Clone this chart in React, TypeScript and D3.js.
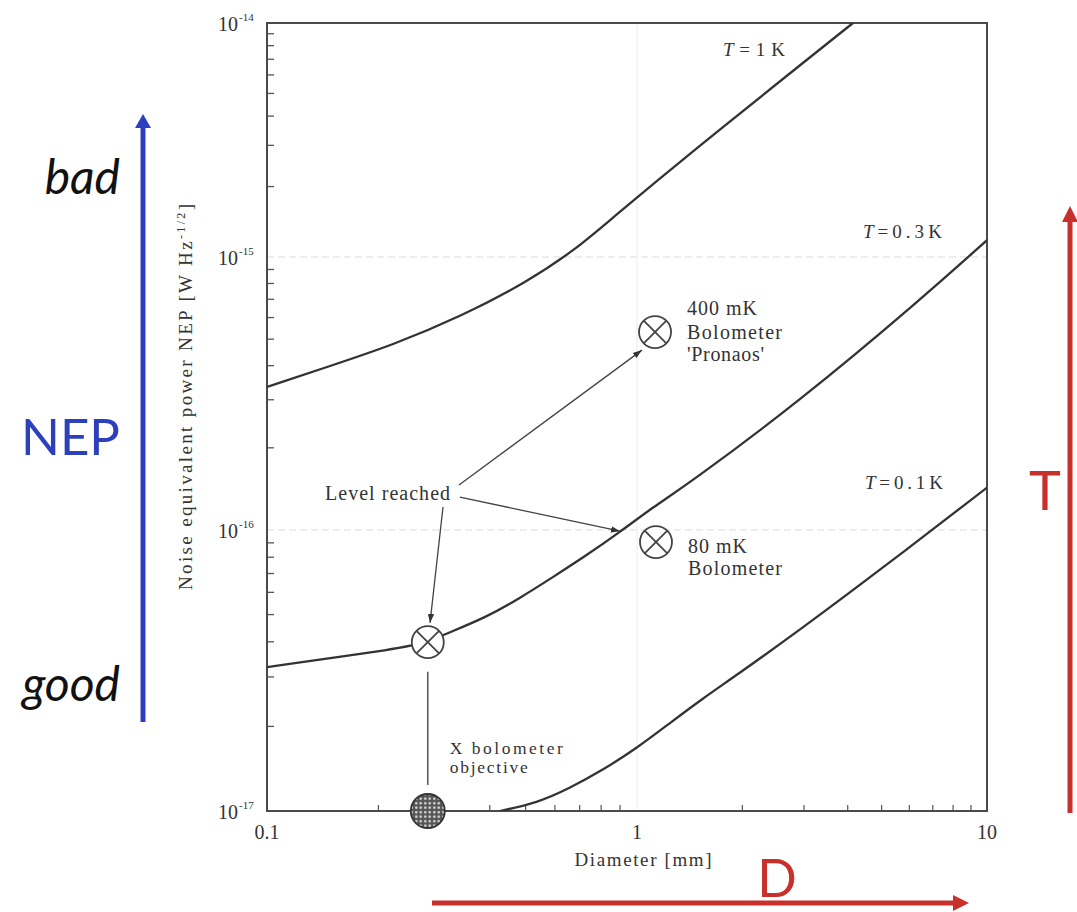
import React from "react";
import * as d3 from "d3";

// ---------- data ----------
const diameterT1 = [0.1, 0.145, 0.219, 0.332, 0.505, 0.689, 0.845, 1.445, 2.79, 4.14];
const nepT1 = [3.34e-16, 3.95e-16, 4.76e-16, 6.03e-16, 8.1e-16, 1.09e-15, 1.44e-15, 2.84e-15, 6.24e-15, 1e-14];

const diameterT03 = [0.1, 0.233, 0.272, 0.299, 0.393, 0.483, 0.593, 0.733, 0.9, 1.111, 1.39, 2.92, 6.44, 10];
const nepT03 = [3.25e-17, 3.8e-17, 3.99e-17, 4.23e-17, 4.9e-17, 5.73e-17, 6.8e-17, 8.15e-17, 9.84e-17, 1.214e-16, 1.462e-16, 2.97e-16, 6.96e-16, 1.18e-15];

const diameterT01 = [0.426, 0.537, 0.659, 0.809, 1.0, 1.242, 1.544, 1.931, 2.92, 4.95, 10];
const nepT01 = [1e-17, 1.068e-17, 1.207e-17, 1.4e-17, 1.675e-17, 2.056e-17, 2.52e-17, 3.05e-17, 4.41e-17, 7.21e-17, 1.43e-16];

const curveLabels = ["T = 1K", "T = 0.3K", "T = 0.1K"];
const curveLabelX = [1.76, 4.42, 4.48];
const curveLabelY = [7.22e-15, 1.205e-15, 1.41e-16];

const xTickValues = [0.1, 1, 10];
const xTickLabels = ["0.1", "1", "10"];
const yTickExponents = [-14, -15, -16, -17];

// markers (diameter, NEP)
const pronaos = { d: 1.126, nep: 5.31e-16 };
const mk80 = { d: 1.133, nep: 9.06e-17 };
const levelPoint = { d: 0.272, nep: 3.99e-17 };
const objective = { d: 0.272, nep: 1e-17 };

// annotation arrows, start/end in data coords
const arrowStartD = [0.3303, 0.332, 0.299];
const arrowStartN = [1.462e-16, 1.32e-16, 1.214e-16];
const arrowEndD = [1.033, 0.9, 0.2758];
const arrowEndN = [4.56e-16, 9.9e-17, 4.67e-17];
const levelLabelAnchor = { d: 0.3124, nep: 1.288e-16 };
const objectiveLinePts = [3.13e-17, 1.238e-17];

// ---------- layout ----------
const W = 1077;
const H = 912;
const x = d3.scaleLog().domain([0.1, 1, 10]).range([267, 637, 987]);
const y = d3.scaleLog().domain([1e-17, 1e-16, 1e-15, 1e-14]).range([811, 530, 257, 23]);

const serif = "'Liberation Serif', 'Times New Roman', serif";
const sans = "Lato, 'Open Sans', sans-serif";
const ink = "#333";
const blue = "#2c40bd";
const red = "#c8302c";

const line = d3
  .line<[number, number]>()
  .x((p) => x(p[0]))
  .y((p) => y(p[1]))
  .curve(d3.curveBasis);

function zip(a: number[], b: number[]): [number, number][] {
  return a.map((v, i) => [v, b[i]] as [number, number]);
}

function CrossCircle({ cx, cy, r }: { cx: number; cy: number; r: number }) {
  const k = r * Math.SQRT1_2;
  return (
    <g stroke="#444" strokeWidth={1.8} fill="white">
      <circle cx={cx} cy={cy} r={r} />
      <line x1={cx - k} y1={cy - k} x2={cx + k} y2={cy + k} />
      <line x1={cx - k} y1={cy + k} x2={cx + k} y2={cy - k} />
    </g>
  );
}

export default function App() {
  const x0 = x(0.1);
  const x1 = x(10);
  const yTop = y(1e-14);
  const yBot = y(1e-17);

  const yMinor: number[] = [];
  [-17, -16, -15].forEach((e) => {
    for (let k = 2; k <= 9; k++) yMinor.push(k * Math.pow(10, e));
  });
  const xMinor: number[] = [];
  [-1, 0].forEach((e) => {
    for (let k = 2; k <= 9; k++) xMinor.push(k * Math.pow(10, e));
  });

  const series = [zip(diameterT1, nepT1), zip(diameterT03, nepT03), zip(diameterT01, nepT01)];
  const r = 16;
  const curveLabelWidths = [62, 79, 78];

  const px = x(pronaos.d), py = y(pronaos.nep);
  const mx = x(mk80.d), my = y(mk80.nep);
  const lx = x(levelPoint.d), ly = y(levelPoint.nep);
  const ox = x(objective.d), oy = y(objective.nep);

  return (
    <svg
      width={W}
      height={H}
      viewBox={`0 0 ${W} ${H}`}
      style={{ position: "absolute", left: 0, top: 0, background: "white" }}
    >
      <defs>
        <clipPath id="plot">
          <rect x={x0} y={yTop} width={x1 - x0} height={yBot - yTop} />
        </clipPath>
        <pattern id="dots" width={4.5} height={4.5} patternUnits="userSpaceOnUse">
          <rect width={4.5} height={4.5} fill="#555" />
          <circle cx={2.25} cy={2.25} r={1.3} fill="#d8d8d8" />
        </pattern>
        <marker id="ah" viewBox="0 0 10 10" refX={10} refY={5} markerWidth={7} markerHeight={7} orient="auto">
          <path d="M0,1.5 L10,5 L0,8.5 Z" fill="#333" />
        </marker>
      </defs>
      <rect width={W} height={H} fill="white" />

      {/* grid */}
      {[1e-15, 1e-16].map((v) => (
        <line key={v} x1={x0} x2={x1} y1={y(v)} y2={y(v)} stroke="#dcdcdc" strokeWidth={1.2} strokeDasharray="7 4" />
      ))}
      <line x1={x(1)} x2={x(1)} y1={yTop} y2={yBot} stroke="#eeeeee" strokeWidth={1.2} />

      {/* minor ticks */}
      {yMinor.map((v) => (
        <line key={v} x1={x0} x2={x0 + 7} y1={y(v)} y2={y(v)} stroke="#555" strokeWidth={1.3} />
      ))}
      {xMinor.map((v) => (
        <line key={v} x1={x(v)} x2={x(v)} y1={yBot} y2={yBot - 6} stroke="#555" strokeWidth={1.2} />
      ))}

      {/* frame */}
      <rect x={x0} y={yTop} width={x1 - x0} height={yBot - yTop} fill="none" stroke="#4a4a4a" strokeWidth={2} />

      {/* curves */}
      <g clipPath="url(#plot)">
        {series.map((s, i) => (
          <path key={i} d={line(s) || ""} fill="none" stroke="#333" strokeWidth={2.3} />
        ))}
      </g>

      {/* y tick labels */}
      {yTickExponents.map((e) => (
        <g key={e} fill={ink} fontFamily={serif}>
          <text x={x0 - 29} y={y(Math.pow(10, e)) + 8} fontSize={20} textAnchor="end">10</text>
          <text x={x0 - 28} y={y(Math.pow(10, e)) - 2} fontSize={11}>{"-" + Math.abs(e)}</text>
        </g>
      ))}
      {/* x tick labels */}
      {xTickValues.map((v, i) => (
        <text key={v} x={x(v)} y={yBot + 28} fontSize={20} fill={ink} fontFamily={serif} textAnchor="middle">
          {xTickLabels[i]}
        </text>
      ))}
      <text x={643} y={866} fontSize={19} fill={ink} fontFamily={serif} textAnchor="middle" textLength={137} lengthAdjust="spacing">
        Diameter [mm]
      </text>
      <text
        transform={`translate(192, 397) rotate(-90)`}
        fontSize={19}
        fill={ink}
        fontFamily={serif}
        textAnchor="middle"
        textLength={386}
        lengthAdjust="spacing"
      >
        Noise equivalent power NEP [W Hz
        <tspan fontSize={12} dy={-7}>-1/2</tspan>
        <tspan dy={7}>]</tspan>
      </text>

      {/* curve labels */}
      {curveLabels.map((t, i) => (
        <text
          key={t}
          x={x(curveLabelX[i])}
          y={y(curveLabelY[i])}
          fontSize={19}
          fill={ink}
          fontFamily={serif}
          textLength={curveLabelWidths[i]}
          lengthAdjust="spacing"
        >
          <tspan fontStyle="italic">T</tspan>
          {t.slice(1).replace(/ /g, "")}
        </text>
      ))}

      {/* annotation arrows */}
      {arrowStartD.map((d, i) => (
        <line
          key={i}
          x1={x(d)}
          y1={y(arrowStartN[i])}
          x2={x(arrowEndD[i])}
          y2={y(arrowEndN[i])}
          stroke="#444"
          strokeWidth={1.3}
          markerEnd="url(#ah)"
        />
      ))}
      <line x1={ox} x2={ox} y1={y(objectiveLinePts[0])} y2={y(objectiveLinePts[1])} stroke="#555" strokeWidth={1.5} />

      {/* markers */}
      <CrossCircle cx={px} cy={py} r={r} />
      <CrossCircle cx={mx} cy={my} r={r} />
      <CrossCircle cx={lx} cy={ly} r={r} />
      <circle cx={ox} cy={oy} r={17} fill="url(#dots)" stroke="#333" strokeWidth={1.8} />

      {/* annotation texts */}
      <g fill={ink} fontFamily={serif} fontSize={20}>
        <text x={x(levelLabelAnchor.d)} y={y(levelLabelAnchor.nep)} textAnchor="end" textLength={125} lengthAdjust="spacing">
          Level reached
        </text>
        <text x={px + 32} y={py - 17} textLength={70} lengthAdjust="spacing">400 mK</text>
        <text x={px + 32} y={py + 7} textLength={95} lengthAdjust="spacing">Bolometer</text>
        <text x={px + 32} y={py + 29} textLength={77} lengthAdjust="spacing">'Pronaos'</text>
        <text x={mx + 32} y={my + 11} textLength={59} lengthAdjust="spacing">80 mK</text>
        <text x={mx + 32} y={my + 33} textLength={94} lengthAdjust="spacing">Bolometer</text>
      </g>
      <g fill={ink} fontFamily={serif} fontSize={17.5}>
        <text x={ox + 22} y={oy - 57} textLength={113} lengthAdjust="spacing">X bolometer</text>
        <text x={ox + 22} y={oy - 38} textLength={78} lengthAdjust="spacing">objective</text>
      </g>

      {/* presentation overlay: NEP arrow */}
      <line x1={143} x2={143} y1={722} y2={126} stroke={blue} strokeWidth={5} />
      <path d="M135,128 L151,128 L143,114 Z" fill={blue} />
      <text x={120} y={194} fontSize={48} fontStyle="italic" fontFamily={sans} textAnchor="end" fill="#111">bad</text>
      <text x={120} y={701} fontSize={48} fontStyle="italic" fontFamily={sans} textAnchor="end" fill="#111">good</text>
      <text x={120} y={455} fontSize={51} fontFamily={sans} textAnchor="end" fill={blue}>NEP</text>

      {/* T arrow */}
      <line x1={1070} x2={1070} y1={813} y2={220} stroke={red} strokeWidth={5} />
      <path d="M1062,222 L1078,222 L1070,206 Z" fill={red} />
      <text x={1045} y={510} fontSize={54} fontFamily={sans} textAnchor="middle" fill={red}>T</text>

      {/* D arrow */}
      <line x1={432} x2={955} y1={903} y2={903} stroke={red} strokeWidth={5} />
      <path d="M953,895 L953,911 L969,903 Z" fill={red} />
      <text x={777} y={897} fontSize={52} fontFamily={sans} textAnchor="middle" fill={red}>D</text>
    </svg>
  );
}
